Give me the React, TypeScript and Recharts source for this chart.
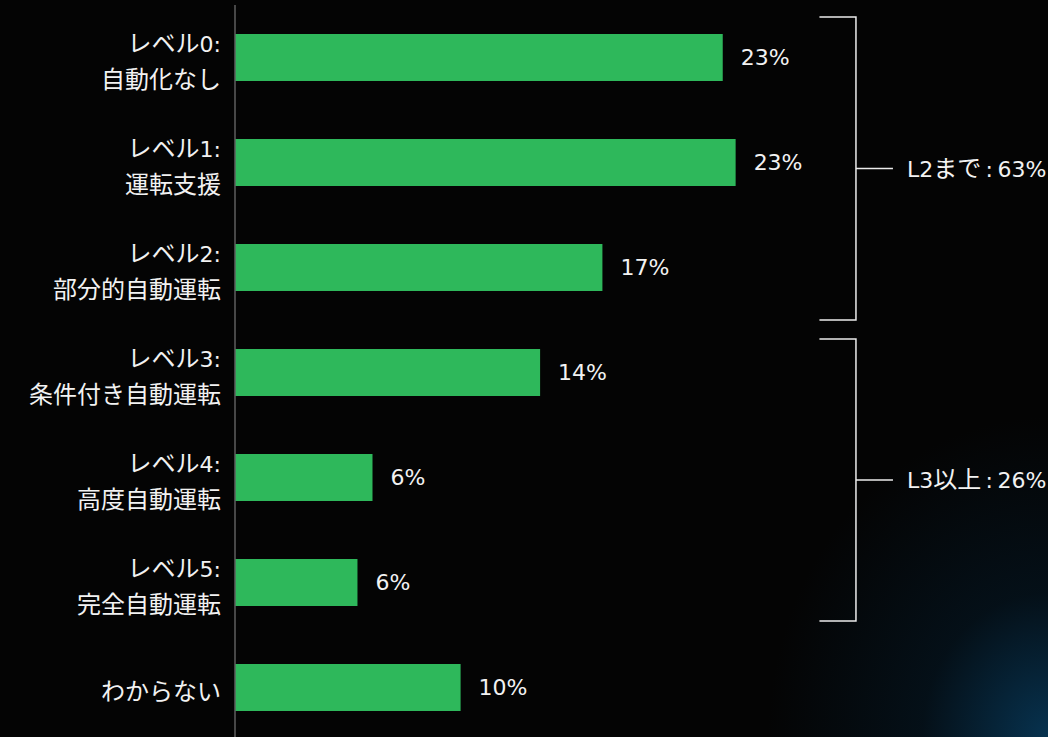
import React from "react";
import { BarChart, Bar, XAxis, YAxis, LabelList, ReferenceArea } from "recharts";

const levels = ["レベル0:", "レベル1:", "レベル2:", "レベル3:", "レベル4:", "レベル5:", ""];
const names = ["自動化なし", "運転支援", "部分的自動運転", "条件付き自動運転", "高度自動運転", "完全自動運転", "わからない"];
const shares = [22.7, 23.3, 17.1, 14.2, 6.4, 5.7, 10.5];
const shareLabels = ["23%", "23%", "17%", "14%", "6%", "6%", "10%"];

const groupFrom = ["g0", "g3"];
const groupTo = ["g2", "g5"];
const groupText = ["L2まで\u2009:\u200963%", "L3以上\u2009:\u200926%"];

const data = names.map((n, i) => ({ key: "g" + i, level: levels[i], name: n, share: shares[i], label: shareLabels[i] }));

const FONT = "'DejaVu Sans', 'Noto Sans CJK JP', sans-serif";
const TEXT = "#f2f2f2";

// latin runs a bit smaller than the japanese ones, like the original font
const Runs = ({ s }: { s: string }) => (
  <>
    {s
      .split(/([\x00-\x7F\u2009]+)/)
      .filter((p) => p.length > 0)
      .map((p, i) => (
        <tspan key={i} fontSize={/^[\x00-\x7F\u2009]+$/.test(p) ? 22 : 24}>
          {p}
        </tspan>
      ))}
  </>
);

const CategoryTick = (props: any) => {
  const { x, y, payload } = props;
  const row = data.find((d) => d.key === payload.value);
  if (!row) return null;
  if (!row.level) {
    return (
      <text x={x} y={y + 4} textAnchor="end" dominantBaseline="central" fill={TEXT} fontFamily={FONT}>
        <Runs s={row.name} />
      </text>
    );
  }
  return (
    <g>
      <text x={x} y={y - 14} textAnchor="end" dominantBaseline="central" fill={TEXT} fontFamily={FONT}>
        <Runs s={row.level} />
      </text>
      <text x={x} y={y + 22} textAnchor="end" dominantBaseline="central" fill={TEXT} fontFamily={FONT}>
        <Runs s={row.name} />
      </text>
    </g>
  );
};

const insets = [
  [12, 0],
  [19, 14],
];

const Bracket = (props: any) => {
  const { x, y, width, height, idx } = props;
  const top = y + insets[idx][0];
  const bottom = y + height - insets[idx][1];
  const right = x + width;
  const mid = (top + bottom) / 2;
  return (
    <g>
      <path d={`M${x},${top}H${right}V${bottom}H${x}`} fill="none" stroke="#ececec" strokeWidth={1.5} />
      <line x1={right} y1={mid} x2={right + 37} y2={mid} stroke="#ececec" strokeWidth={1.5} />
      <text x={right + 51} y={mid} dominantBaseline="central" fill={TEXT} fontFamily={FONT}>
        <Runs s={groupText[idx]} />
      </text>
    </g>
  );
};

const App: React.FC = () => {
  return (
    <div
      style={{
        position: "fixed",
        left: 0,
        top: 0,
        width: 1048,
        height: 737,
        overflow: "hidden",
        background:
          "radial-gradient(ellipse 280px 320px at 100% 100%, rgba(8,62,98,0.8) 0%, rgba(5,30,48,0.45) 45%, rgba(3,6,10,0) 100%), #040404",
      }}
    >
      <BarChart
        width={1048}
        height={745}
        data={data}
        layout="vertical"
        margin={{ top: 5, right: 18, bottom: 5, left: 0 }}
        barCategoryGap={0}
      >
        <XAxis type="number" domain={[0, 37]} hide />
        <YAxis
          type="category"
          dataKey="key"
          width={235}
          axisLine={{ stroke: "#5e5e5e", strokeWidth: 1.5 }}
          tickLine={false}
          tickMargin={8}
          interval={0}
          tick={<CategoryTick />}
        />
        {groupFrom.map((g, i) => (
          <ReferenceArea
            key={g}
            y1={g}
            y2={groupTo[i]}
            x1={27.2}
            x2={28.9}
            ifOverflow="visible"
            shape={(p: any) => <Bracket {...p} idx={i} />}
          />
        ))}
        <Bar dataKey="share" fill="#2eb85b" barSize={47} isAnimationActive={false}>
          <LabelList dataKey="label" position="right" offset={18} fill={TEXT} fontSize={22} fontFamily={FONT} />
        </Bar>
      </BarChart>
    </div>
  );
};

export default App;
